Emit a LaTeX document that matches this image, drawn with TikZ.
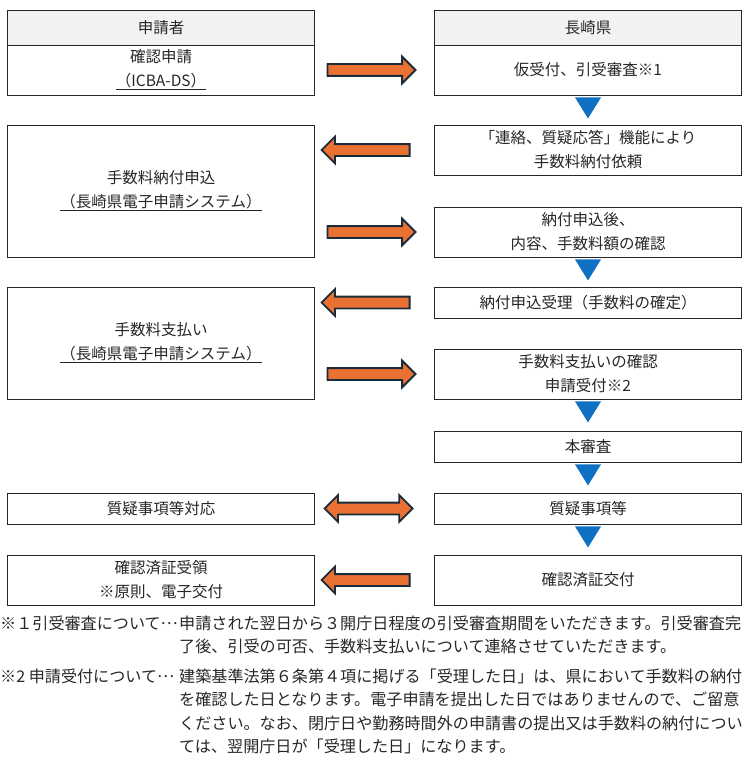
\documentclass[tikz,border=0pt]{standalone}
\usepackage{fontspec}
\setmainfont{Noto Sans CJK JP}
\usetikzlibrary{shapes.arrows,calc}
\definecolor{hdrgray}{HTML}{F2F2F2}
\definecolor{boxline}{HTML}{262626}
\definecolor{arroworange}{HTML}{E97132}
\definecolor{arrowline}{HTML}{1B2B3A}
\definecolor{flowblue}{HTML}{1070C4}
\newcommand{\boxfont}{\fontsize{15.5}{24}\selectfont}
\newcommand{\notefont}{\fontsize{16.1}{23.3}\selectfont}
\newcommand{\midell}{\raisebox{0.32em}{…}}
\newcommand{\downtri}[1]{\fill[flowblue] ($(#1.south)+(-13,-2)$) -- ($(#1.south)+(13,-2)$) -- ($(#1.south)+(0,-23)$) -- cycle;}
\tikzset{
    box/.style={rectangle,
        draw=boxline,
        line width=0.9pt,
        minimum width=307pt,
        inner sep=0pt,
        align=center,
        text=black!85,
        font=\boxfont},
    hdr/.style={box, fill=hdrgray, minimum height=35pt},
    rarrow/.style={single arrow,
        draw=arrowline,
        fill=arroworange,
        line width=1.8pt,
        minimum height=88pt,
        inner sep=0pt,
        inner ysep=5pt,
        single arrow head extend=7.5pt,
        single arrow tip angle=90},
    larrow/.style={rarrow, shape border rotate=180},
    darrow/.style={double arrow,
        draw=arrowline,
        fill=arroworange,
        line width=1.8pt,
        minimum height=88pt,
        inner sep=0pt,
        inner ysep=5pt,
        double arrow head extend=7.5pt,
        double arrow tip angle=90},
    note/.style={inner sep=0pt, text=black!85, font=\notefont}
}

\begin{document}
\begin{tikzpicture}[x=1pt, y=1pt]
    \useasboundingbox (0,0) rectangle (749,-765);

    % Header row
    \node [hdr] (hdrL) at (161,-27.5) {申請者};
    \node [hdr] (hdrR) at (588,-27.5) {長崎県};

    % Applicant side
    \node [box, minimum height=50pt] (apply) at (161,-70) {確認申請\\\underline{（ICBA-DS）}};
    \node [box, minimum height=132pt] (payapply) at (161,-191) {手数料納付申込\\\underline{（長崎県電子申請システム）}};
    \node [box, minimum height=112pt] (payment) at (161,-343) {手数料支払い\\\underline{（長崎県電子申請システム）}};
    \node [box, minimum height=31pt] (answer) at (161,-508.5) {質疑事項等対応};
    \node [box, minimum height=50pt] (receive) at (161,-580) {確認済証受領\\※原則、電子交付};

    % Prefecture side
    \node [box, minimum height=50pt] (prelim) at (588,-70) {仮受付、引受審査※1};
    \node [box, minimum height=50pt] (request) at (588,-150) {「連絡、質疑応答」機能により\\手数料納付依頼};
    \node [box, minimum height=50pt] (check) at (588,-232) {納付申込後、\\内容、手数料額の確認};
    \node [box, minimum height=31pt] (fixed) at (588,-302.5) {納付申込受理（手数料の確定）};
    \node [box, minimum height=50pt] (paid) at (588,-374) {手数料支払いの確認\\申請受付※2};
    \node [box, minimum height=31pt] (review) at (588,-446.5) {本審査};
    \node [box, minimum height=31pt] (query) at (588,-508.5) {質疑事項等};
    \node [box, minimum height=50pt] (issue) at (588,-580) {確認済証交付};

    % Flow down the prefecture side
    \downtri{prelim}
    \downtri{check}
    \downtri{paid}
    \downtri{review}
    \downtri{query}

    % Arrows between the two sides
    \node [rarrow] (a1) at ($(apply.east |- prelim.west)!0.45!(prelim.west)$) {};
    \node [larrow] (a2) at ($(payapply.east |- request.west)!0.45!(request.west)$) {};
    \node [rarrow] (a3) at ($(payapply.east |- check.west)!0.45!(check.west)$) {};
    \node [larrow] (a4) at ($(payment.east |- fixed.west)!0.45!(fixed.west)$) {};
    \node [rarrow] (a5) at ($(payment.east |- paid.west)!0.45!(paid.west)$) {};
    \node [darrow] (a6) at ($(answer.east)!0.45!(query.west)$) {};
    \node [larrow] (a7) at ($(receive.east)!0.45!(issue.west)$) {};

    % Notes
    \node [note, anchor=north west] (note1) at (0,-613) {\begin{tabular}{@{}p{179pt}@{}l@{}}
        ※１引受審査について\midell & 申請された翌日から３開庁日程度の引受審査期間をいただきます。引受審査完\\
        & 了後、引受の可否、手数料支払いについて連絡させていただきます。
    \end{tabular}};
    \node [note, anchor=north west] (note2) at (0,-666) {\begin{tabular}{@{}p{179pt}@{}l@{}}
        ※2 申請受付について\midell & 建築基準法第６条第４項に掲げる「受理した日」は、県において手数料の納付\\
        & を確認した日となります。電子申請を提出した日ではありませんので、ご留意\\
        & ください。なお、閉庁日や勤務時間外の申請書の提出又は手数料の納付につい\\
        & ては、翌開庁日が「受理した日」になります。
    \end{tabular}};

\end{tikzpicture}
\end{document}
